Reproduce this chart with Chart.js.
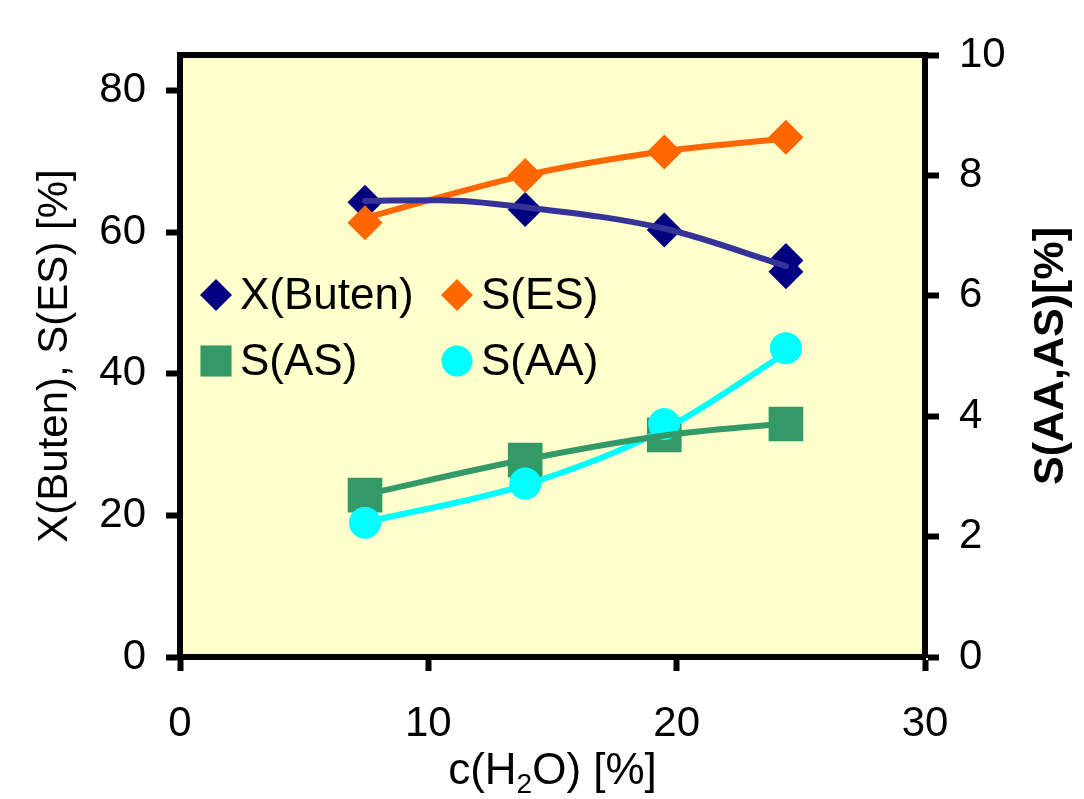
<!DOCTYPE html>
<html>
<head>
<meta charset="utf-8">
<script src="https://cdn.jsdelivr.net/npm/chart.js@4.4.1/dist/chart.umd.min.js"></script>
<style>
  html, body { margin: 0; padding: 0; background: #fff; }
  canvas { display: block; }
</style>
</head>
<body>
<canvas id="chart" width="1084" height="799"></canvas>
<script>
// axis ticks
const xTicks = [0, 10, 20, 30];
const leftTicks = [0, 20, 40, 60, 80];
const rightTicks = [0, 2, 4, 6, 8, 10];

// measured points, x = c(H2O) [%]
const waterConc = [7.45, 13.9, 19.5, 24.4];
const butenX = [7.45, 13.9, 19.5, 24.4, 24.4];
const butenConv = [64.2, 63.2, 60.3, 56.0, 54.4];
const esSel = [61.3, 68.0, 71.3, 73.4];
const asSel = [2.69, 3.27, 3.69, 3.87];
const aaSel = [2.23, 2.88, 3.87, 5.13];

// trend curves
const butenFitX = [7.45, 10.5, 13.9, 19.5, 24.4];
const butenFit = [64.4, 64.5, 63.5, 60.5, 55.2];
const esFit = [62.0, 68.0, 71.4, 73.2];
const asFit = [2.70, 3.28, 3.68, 3.88];
const aaFit = [2.24, 2.86, 3.78, 5.05];

const NAVY = '#000080', BLUE_LINE = '#333399', ORANGE = '#FF6600', GREEN = '#339966', CYAN = '#00FFFF';
const FONT = "'Liberation Sans', Arial, sans-serif";

const toPts = (xs, ys) => xs.map((x, i) => ({ x: x, y: ys[i] }));

function fitLine(label, xs, ys, color, axis) {
    return {
        type: 'line', label: label, data: toPts(xs, ys), yAxisID: axis,
        borderColor: color, borderWidth: 6, pointRadius: 0, borderCapStyle: 'round',
        cubicInterpolationMode: 'monotone', fill: false, order: 0
    };
}

function markers(label, xs, ys, color, style, radius, axis, order) {
    return {
        type: 'scatter', label: label, data: toPts(xs, ys), yAxisID: axis,
        showLine: false, pointStyle: style, pointRadius: radius, pointHoverRadius: radius,
        backgroundColor: color, borderColor: color, borderWidth: 0, order: order
    };
}

// plot background + top frame
const frame = {
    id: 'frame',
    beforeDraw(chart) {
        const { ctx, chartArea: a } = chart;
        ctx.save();
        ctx.fillStyle = '#FFFFCC';
        ctx.fillRect(a.left, a.top, a.right - a.left, a.bottom - a.top);
        ctx.restore();
    },
    afterDraw(chart) {
        const { ctx, chartArea: a } = chart;
        ctx.save();
        ctx.strokeStyle = '#000';
        ctx.lineWidth = 6;
        ctx.beginPath();
        ctx.moveTo(a.left - 3, a.top);
        ctx.lineTo(a.right + 3, a.top);
        ctx.stroke();
        ctx.restore();
    }
};

// legend inside the plot, two columns
const legendItems = [
    { text: 'X(Buten)', color: NAVY, style: 'rectRot', r: 16, dx: 36, dy: 240 },
    { text: 'S(ES)', color: ORANGE, style: 'rectRot', r: 16, dx: 277, dy: 240 },
    { text: 'S(AS)', color: GREEN, style: 'rect', r: 22, dx: 36, dy: 306 },
    { text: 'S(AA)', color: CYAN, style: 'circle', r: 15.5, dx: 277, dy: 306 }
];
const innerLegend = {
    id: 'innerLegend',
    afterDraw(chart) {
        const { ctx, chartArea: a } = chart;
        ctx.save();
        ctx.font = '44px ' + FONT;
        ctx.textBaseline = 'middle';
        ctx.textAlign = 'left';
        legendItems.forEach(it => {
            const x = a.left + it.dx, y = a.top + it.dy;
            ctx.fillStyle = it.color;
            ctx.strokeStyle = it.color;
            Chart.helpers.drawPoint(ctx, { pointStyle: it.style, radius: it.r, rotation: 0, borderWidth: 0 }, x, y);
            ctx.fillStyle = '#000';
            ctx.fillText(it.text, x + 24, y + 2);
        });
        ctx.restore();
    }
};

// x title with subscript and right title reading upward
const titles = {
    id: 'titles',
    afterDraw(chart) {
        const { ctx, chartArea: a } = chart;
        ctx.save();
        ctx.fillStyle = '#000';
        ctx.textBaseline = 'alphabetic';
        ctx.textAlign = 'left';
        const big = '44px ' + FONT, small = '28px ' + FONT;
        const parts = [['c(H', big, 0], ['2', small, 9], ['O) [%]', big, 0]];
        let w = 0;
        parts.forEach(p => { ctx.font = p[1]; w += ctx.measureText(p[0]).width; });
        let x = (a.left + a.right) / 2 - w / 2;
        const base = 784;
        parts.forEach(p => {
            ctx.font = p[1];
            ctx.fillText(p[0], x, base + p[2]);
            x += ctx.measureText(p[0]).width;
        });

        ctx.translate(1051, (a.top + a.bottom) / 2);
        ctx.rotate(-Math.PI / 2);
        ctx.font = 'bold 43px ' + FONT;
        ctx.textAlign = 'center';
        ctx.textBaseline = 'middle';
        ctx.fillText('S(AA,AS)[%]', 0, 0);
        ctx.restore();
    }
};

const axisGrid = { drawOnChartArea: false, drawTicks: true, tickLength: 14, tickWidth: 6, tickColor: '#000' };
const axisBorder = { display: true, width: 6, color: '#000' };

new Chart(document.getElementById('chart'), {
    type: 'scatter',
    data: {
        datasets: [
            fitLine('X(Buten) trend', butenFitX, butenFit, BLUE_LINE, 'y'),
            fitLine('S(ES) trend', waterConc, esFit, ORANGE, 'y'),
            fitLine('S(AS) trend', waterConc, asFit, GREEN, 'y2'),
            fitLine('S(AA) trend', waterConc, aaFit, CYAN, 'y2'),
            markers('S(ES)', waterConc, esSel, ORANGE, 'rectRot', 17.5, 'y', 1),
            markers('X(Buten)', butenX, butenConv, NAVY, 'rectRot', 17.5, 'y', 2),
            markers('S(AA)', waterConc, aaSel, CYAN, 'circle', 16, 'y2', 1),
            markers('S(AS)', waterConc, asSel, GREEN, 'rect', 24.5, 'y2', 2)
        ]
    },
    options: {
        responsive: false,
        animation: false,
        devicePixelRatio: 1,
        layout: { padding: { top: 55, left: 0, right: 0, bottom: 0 } },
        plugins: { legend: { display: false }, tooltip: { enabled: false } },
        scales: {
            x: {
                type: 'linear', min: 0, max: 30,
                afterBuildTicks: s => { s.ticks = xTicks.map(v => ({ value: v })); },
                afterFit: s => { s.height = 142; },
                grid: axisGrid, border: axisBorder,
                ticks: { color: '#000', padding: 28, font: { family: FONT, size: 42 } }
            },
            y: {
                position: 'left', min: 0, max: 85,
                afterBuildTicks: s => { s.ticks = leftTicks.map(v => ({ value: v })); },
                afterFit: s => { s.width = 180; },
                grid: axisGrid, border: axisBorder,
                ticks: { color: '#000', padding: 20, font: { family: FONT, size: 42 } },
                title: { display: true, text: 'X(Buten), S(ES) [%]', color: '#000', padding: { top: 30, bottom: 0 }, font: { family: FONT, size: 42 } }
            },
            y2: {
                position: 'right', min: 0, max: 10,
                afterBuildTicks: s => { s.ticks = rightTicks.map(v => ({ value: v })); },
                afterFit: s => { s.width = 159; },
                grid: axisGrid, border: axisBorder,
                ticks: { color: '#000', padding: 20, font: { family: FONT, size: 42 } }
            }
        }
    },
    plugins: [frame, innerLegend, titles]
});
</script>
</body>
</html>
